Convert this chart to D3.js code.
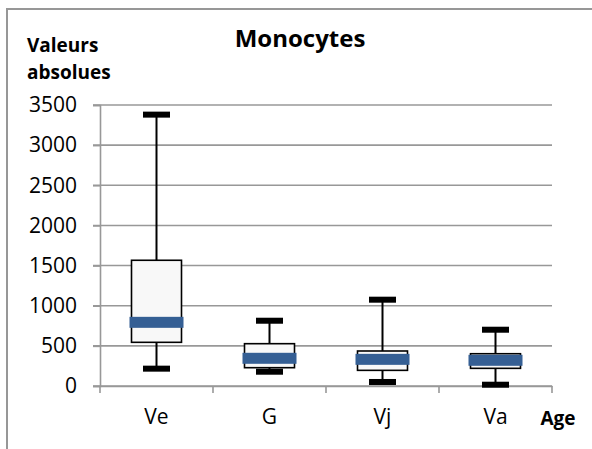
<!DOCTYPE html>
<html><head><meta charset="utf-8">
<script src="https://cdn.jsdelivr.net/npm/d3@7"></script>
<style>body{margin:0;background:#fff}svg{display:block}</style>
</head><body>
<script>
const categories = ["Ve", "G", "Vj", "Va"];
const whiskerMax = [3380, 813, 1075, 701];
const q3 = [1566, 527, 436, 402];
const median = [793, 345, 332, 320];
const q1 = [544, 228, 195, 220];
const whiskerMin = [216, 178, 50, 16];
const yTicks = [0, 500, 1000, 1500, 2000, 2500, 3000, 3500];
const title = "Monocytes";
const yTitle = ["Valeurs", "absolues"];
const xTitle = "Age";

const W = 592, H = 449;
const font = "'Open Sans', sans-serif";
const svg = d3.select("body").append("svg").attr("width", W).attr("height", H);

// outer frame
svg.append("rect").attr("x", 7).attr("y", 9).attr("width", 800).attr("height", 800)
  .attr("fill", "none").attr("stroke", "#979797").attr("stroke-width", 2);

const x = d3.scaleBand().domain(categories).range([100, 552]).paddingInner(0).paddingOuter(0);
const y = d3.scaleLinear().domain([0, 3500]).range([386, 105]);

// gridlines
svg.append("g").selectAll("line").data(yTicks).join("line")
  .attr("x1", 93).attr("x2", 552)
  .attr("y1", d => y(d)).attr("y2", d => y(d))
  .attr("stroke", "#989898").attr("stroke-width", 1.6);

// y axis
const yAxis = svg.append("g").attr("transform", "translate(100,0)")
  .call(d3.axisLeft(y).tickValues(yTicks).tickSize(7).tickPadding(16).tickFormat(d3.format("d")));
yAxis.select(".domain").attr("stroke", "#989898").attr("stroke-width", 1.6);
yAxis.selectAll(".tick line").attr("stroke", "#989898").attr("stroke-width", 1.6);
yAxis.selectAll("text").attr("font-family", font).attr("font-size", 21).attr("fill", "#000");

// x axis
const xAxis = svg.append("g").attr("transform", "translate(0,386)")
  .call(d3.axisBottom(x).tickSize(0).tickPadding(23).tickSizeOuter(0));
xAxis.select(".domain").attr("stroke", "#989898").attr("stroke-width", 1.6);
xAxis.selectAll("text").attr("font-family", font).attr("font-size", 21).attr("fill", "#000");
// category boundary ticks
const bounds = categories.map(c => x(c)).concat([x(categories[categories.length - 1]) + x.bandwidth()]);
svg.append("g").selectAll("line").data(bounds).join("line")
  .attr("x1", d => d).attr("x2", d => d).attr("y1", 386).attr("y2", 393)
  .attr("stroke", "#989898").attr("stroke-width", 1.6);

const cx = i => x(categories[i]) + x.bandwidth() / 2;
const idx = d3.range(categories.length);
const g = svg.append("g");

// whiskers
g.selectAll(".wh").data(idx).join("line")
  .attr("x1", cx).attr("x2", cx)
  .attr("y1", i => y(whiskerMax[i])).attr("y2", i => y(whiskerMin[i]))
  .attr("stroke", "#000").attr("stroke-width", 2);

// boxes
const boxW = 50;
g.selectAll(".box").data(idx).join("rect")
  .attr("x", i => cx(i) - boxW / 2).attr("width", boxW)
  .attr("y", i => y(q3[i])).attr("height", i => y(q1[i]) - y(q3[i]))
  .attr("fill", "#f8f8f8").attr("stroke", "#000").attr("stroke-width", 1.6);

// medians
const medW = 54, medH = 11;
g.selectAll(".med").data(idx).join("rect")
  .attr("x", i => cx(i) - medW / 2).attr("width", medW)
  .attr("y", i => y(median[i]) - medH / 2).attr("height", medH)
  .attr("fill", "#355f94");

// caps
const capW = 27, capH = 6;
[whiskerMax, whiskerMin].forEach(arr => {
  g.selectAll(null).data(idx).join("rect")
    .attr("x", i => cx(i) - capW / 2).attr("width", capW)
    .attr("y", i => y(arr[i]) - capH / 2).attr("height", capH)
    .attr("fill", "#000");
});

// titles
svg.append("text").attr("x", 300).attr("y", 47).attr("text-anchor", "middle")
  .attr("font-family", font).attr("font-weight", "bold").attr("font-size", 24).text(title);
svg.append("text").attr("x", 27).attr("y", 52)
  .attr("font-family", font).attr("font-weight", "bold").attr("font-size", 19).text(yTitle[0]);
svg.append("text").attr("x", 27).attr("y", 79)
  .attr("font-family", font).attr("font-weight", "bold").attr("font-size", 19).text(yTitle[1]);
svg.append("text").attr("x", 558).attr("y", 425).attr("text-anchor", "middle")
  .attr("font-family", font).attr("font-weight", "bold").attr("font-size", 19).text(xTitle);
</script>
</body></html>
